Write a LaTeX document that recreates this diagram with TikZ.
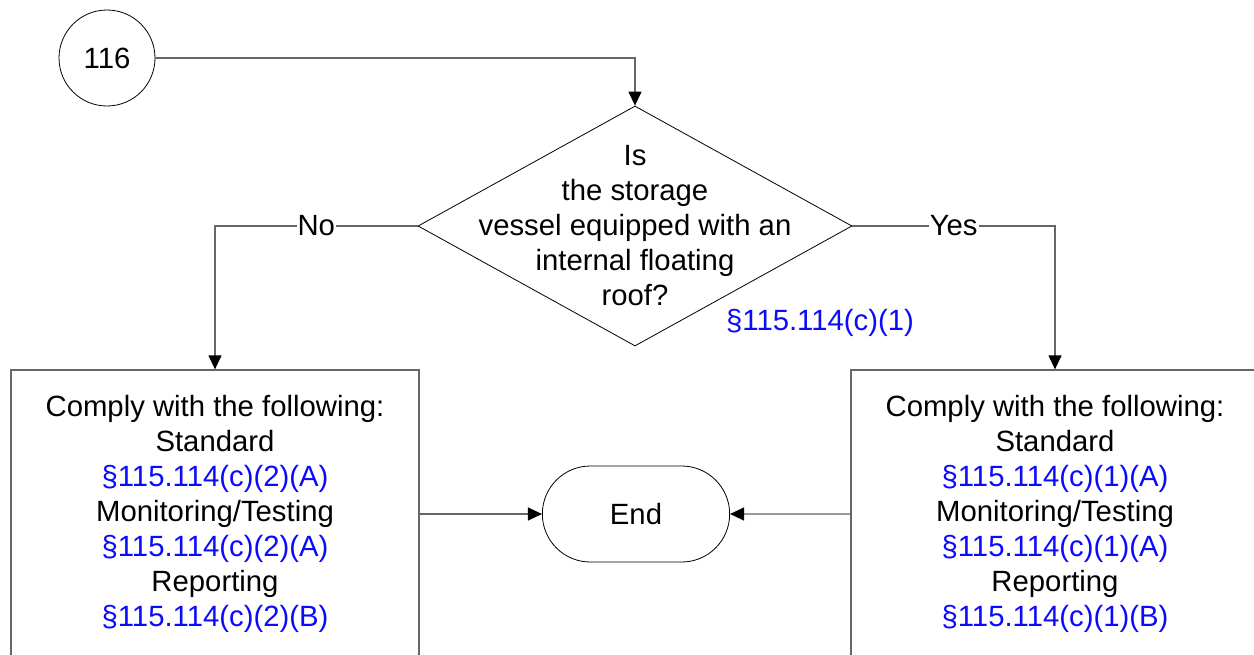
\documentclass[tikz,border=0pt]{standalone}
\usepackage{fontspec}
\setmainfont{Liberation Sans}
\usetikzlibrary{arrows.meta,shapes.geometric,shapes.misc}
\definecolor{refblue}{RGB}{10,10,255}
\begin{document}
\begin{tikzpicture}[x=1pt,y=-1pt,
  every node/.style={font=\fontsize{29.3}{35}\selectfont},
  conn/.style={draw=black!60,line width=1.3pt,-{Triangle[length=14pt,width=13pt,black]}},
  shp/.style={draw=black,line width=0.8pt},
  act/.style={draw=black!60,line width=1.3pt,minimum width=408pt,minimum height=288pt,align=center,inner sep=0pt},
  decision/.style={shp,diamond,minimum width=434pt,minimum height=240pt,inner sep=0pt},
  ref/.style={text=refblue}]
\clip (0,0) rectangle (1254,654);
\node[shp,circle,minimum size=96pt,inner sep=0pt] (c116) at (107,58) {116};
\node[decision] (q) at (635,226) {};
\node[align=center] (qtext) at (635,226) {Is\\the storage\\vessel equipped with an\\internal floating\\roof?};
\node[ref] (qref) at (820,323) {§115.114(c)(1)};
\node[act] (no) at (215,514) {Comply with the following:\\Standard\\\textcolor{refblue}{§115.114(c)(2)(A)}\\Monitoring/Testing\\\textcolor{refblue}{§115.114(c)(2)(A)}\\Reporting\\\textcolor{refblue}{§115.114(c)(2)(B)}};
\node[act] (yes) at (1055,514) {Comply with the following:\\Standard\\\textcolor{refblue}{§115.114(c)(1)(A)}\\Monitoring/Testing\\\textcolor{refblue}{§115.114(c)(1)(A)}\\Reporting\\\textcolor{refblue}{§115.114(c)(1)(B)}};
\node[shp,rounded rectangle,minimum width=194pt,minimum height=96pt] (end) at (636,514) {End};
\draw[conn] (c116) -| (q);
\draw[conn] (q) -| node[pos=0.25,fill=white,inner sep=1pt] {No} (no);
\draw[conn] (q) -| node[pos=0.25,fill=white,inner sep=1pt] {Yes} (yes);
\draw[conn] (no) -- (end);
\draw[conn] (yes) -- (end);
\end{tikzpicture}
\end{document}
